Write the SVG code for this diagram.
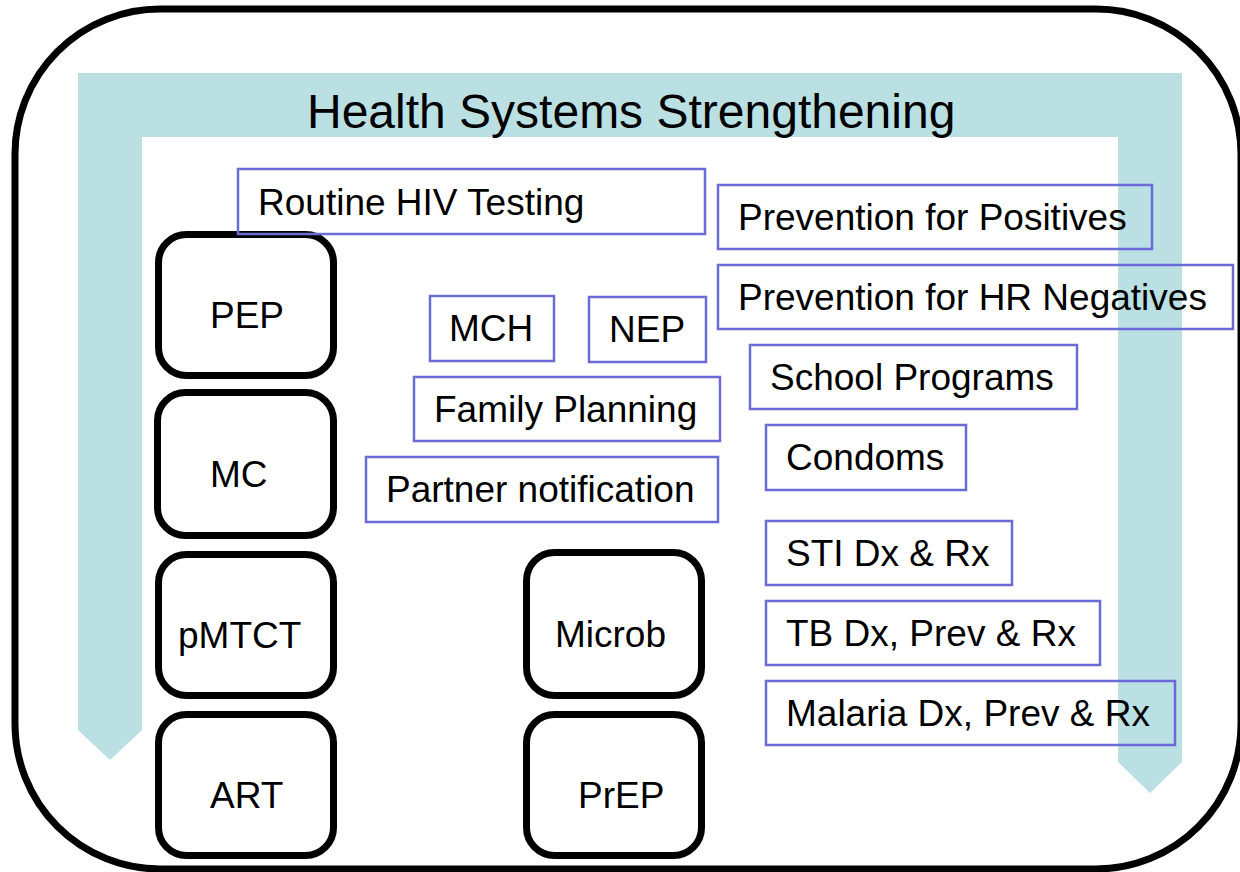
<svg xmlns="http://www.w3.org/2000/svg" width="1240" height="872" viewBox="0 0 1240 872">
<style>
  .lbl{font-family:"Liberation Sans",Arial,sans-serif;font-size:37px;fill:#000}
  .title{font-family:"Liberation Sans",Arial,sans-serif;font-size:48px;fill:#000}
  .pbox{fill:none;stroke:#6b6bd6;stroke-width:2.5}
  .bbox{fill:#fff;stroke:#000;stroke-width:7}
</style>
<rect id="frame" x="15" y="9" width="1226" height="860" rx="145" ry="145" fill="#fff" stroke="#000" stroke-width="7"/>
<g id="hss">
  <path d="M78,73 H1182 V762 L1150,793 L1118,762 V137 H142 V730 L110,760 L78,730 Z" fill="#bbe0e3"/>
  <text class="title" x="307" y="128">Health Systems Strengthening</text>
</g>
<g id="pep"><rect class="bbox" x="158.5" y="234.5" width="175" height="141" rx="28"/><text class="lbl" x="210" y="328">PEP</text></g>
<g id="mc"><rect class="bbox" x="157.5" y="392.5" width="176" height="143" rx="28"/><text class="lbl" x="210" y="487">MC</text></g>
<g id="pmtct"><rect class="bbox" x="158.5" y="554.5" width="175" height="141" rx="28"/><text class="lbl" x="178" y="648">pMTCT</text></g>
<g id="art"><rect class="bbox" x="158.5" y="714.5" width="175" height="141" rx="28"/><text class="lbl" x="210" y="808">ART</text></g>
<g id="microb"><rect class="bbox" x="526.5" y="552.5" width="175" height="143" rx="28"/><text class="lbl" x="555" y="647">Microb</text></g>
<g id="prep"><rect class="bbox" x="526.5" y="714.5" width="175" height="141" rx="28"/><text class="lbl" x="578" y="808">PrEP</text></g>
<g id="routine"><rect class="pbox" x="238" y="169" width="467" height="65"/><text class="lbl" x="258" y="215">Routine HIV Testing</text></g>
<g id="pfp"><rect class="pbox" x="718" y="185" width="434" height="64"/><text class="lbl" x="738" y="230">Prevention for Positives</text></g>
<g id="pfhr"><rect class="pbox" x="718" y="265" width="515" height="64"/><text class="lbl" x="738" y="310">Prevention for HR Negatives</text></g>
<g id="mch"><rect class="pbox" x="430" y="296" width="124" height="65"/><text class="lbl" x="449" y="341">MCH</text></g>
<g id="nep"><rect class="pbox" x="589" y="297" width="117" height="65"/><text class="lbl" x="609" y="342">NEP</text></g>
<g id="fp"><rect class="pbox" x="414" y="377" width="306" height="64"/><text class="lbl" x="434" y="422">Family Planning</text></g>
<g id="pn"><rect class="pbox" x="366" y="457" width="352" height="65"/><text class="lbl" x="386" y="502">Partner notification</text></g>
<g id="school"><rect class="pbox" x="750" y="345" width="327" height="64"/><text class="lbl" x="770" y="390">School Programs</text></g>
<g id="condoms"><rect class="pbox" x="766" y="425" width="200" height="65"/><text class="lbl" x="786" y="470">Condoms</text></g>
<g id="sti"><rect class="pbox" x="766" y="521" width="246" height="64"/><text class="lbl" x="786" y="566">STI Dx &amp; Rx</text></g>
<g id="tb"><rect class="pbox" x="766" y="601" width="334" height="64"/><text class="lbl" x="786" y="646">TB Dx, Prev &amp; Rx</text></g>
<g id="malaria"><rect class="pbox" x="766" y="681" width="409" height="64"/><text class="lbl" x="786" y="726">Malaria Dx, Prev &amp; Rx</text></g>
<g id="connectors"></g>
</svg>
